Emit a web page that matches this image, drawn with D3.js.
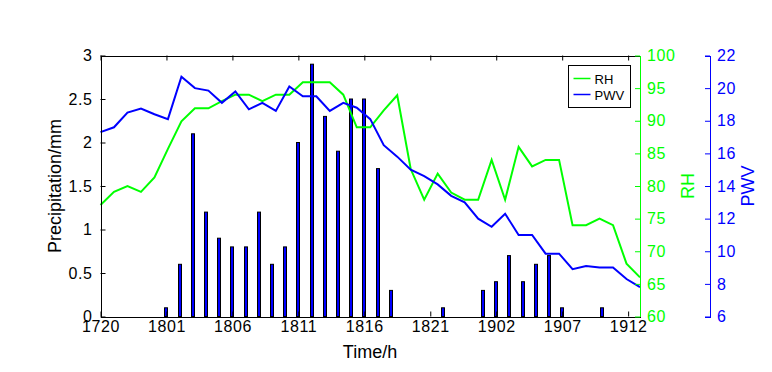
<!doctype html>
<html lang="en">
<head>
<meta charset="utf-8">
<title>Precipitation, RH and PWV</title>
<script src="https://cdn.jsdelivr.net/npm/d3@7"></script>
<style>
  body { margin: 0; background: #fff; }
  svg { font-family: "Liberation Sans", Arial, sans-serif; }
  .lbl { font-size: 16px; letter-spacing: 0.6px; }
  .title { font-size: 18px; }
</style>
</head>
<body>
<div id="chart"></div>
<script>
// hours from 17th 20:00 to 19th 12:00
var hours = d3.range(41);
var tickHours = [0, 5, 10, 15, 20, 25, 30, 35, 40];
var tickLabels = ["1720", "1801", "1806", "1811", "1816", "1821", "1902", "1907", "1912"];

// precipitation bars (hour index, mm)
var rainHour = [5, 6, 7, 8, 9, 10, 11, 12, 13, 14, 15, 16, 17, 18, 19, 20, 21, 22, 26, 29, 30, 31, 32, 33, 34, 35, 38];
var rainMm   = [0.1, 0.6, 2.1, 1.2, 0.9, 0.8, 0.8, 1.2, 0.6, 0.8, 2.0, 2.9, 2.3, 1.9, 2.5, 2.5, 1.7, 0.3, 0.1, 0.3, 0.4, 0.7, 0.4, 0.6, 0.7, 0.1, 0.1];

var rh = [77.1, 79.1, 80.0, 79.1, 81.3, 85.7, 89.9, 91.9, 91.9, 93.0,
          94.0, 94.0, 93.0, 94.0, 94.0, 95.9, 95.9, 95.9, 94.0, 89.0,
          89.0, 91.6, 93.9, 82.6, 77.9, 81.9, 79.0, 77.9, 77.9, 84.0,
          77.9, 86.0, 83.0, 84.0, 84.0, 74.0, 74.0, 75.0, 74.0, 68.1, 66.0];

var pwv = [17.3, 17.6, 18.5, 18.75, 18.4, 18.1, 20.7, 20.0, 19.85, 19.1,
           19.8, 18.7, 19.1, 18.6, 20.1, 19.5, 19.5, 18.6, 19.1, 18.8,
           18.1, 16.5, 15.8, 15.0, 14.6, 14.1, 13.4, 13.0, 12.0, 11.5,
           12.3, 11.0, 11.0, 9.85, 9.85, 8.9, 9.1, 9.0, 9.0, 8.3, 7.8];

var plotL = 100.5, plotR = 640, plotT = 55.5, plotB = 316.5;

var svg = d3.select("#chart").append("svg")
    .attr("width", 772)
    .attr("height", 372);

// bar axes and line axes do not share the same x limits
var xBar = d3.scaleLinear().domain([0, 40.9]).range([plotL, plotR]);
var xLine = d3.scaleLinear().domain([0, 40]).range([plotL, plotR]);
var yP = d3.scaleLinear().domain([0, 3]).range([plotB, plotT]);
var yRH = d3.scaleLinear().domain([60, 100]).range([plotB, plotT]);
var yPWV = d3.scaleLinear().domain([6, 22]).range([plotB, plotT]);

// bars
svg.append("g").selectAll("rect")
    .data(rainHour)
  .enter().append("rect")
    .attr("x", function(d) { return Math.round(xBar(d)) - 1.5; })
    .attr("y", function(d, i) { return yP(rainMm[i]); })
    .attr("width", 3)
    .attr("height", function(d, i) { return plotB - yP(rainMm[i]); })
    .attr("fill", "#0000ff")
    .attr("stroke", "#000")
    .attr("stroke-width", 1);

// lines
var rhLine = d3.line().x(function(d, i) { return xLine(i); }).y(function(d) { return yRH(d); });
var pwvLine = d3.line().x(function(d, i) { return xLine(i); }).y(function(d) { return yPWV(d); });

svg.append("path").datum(rh)
    .attr("d", rhLine).attr("fill", "none")
    .attr("stroke", "#00ff00").attr("stroke-width", 2);
svg.append("path").datum(pwv)
    .attr("d", pwvLine).attr("fill", "none")
    .attr("stroke", "#0000ff").attr("stroke-width", 2);

// frame: bottom and top x axes (ticks inward)
var xAxisB = d3.axisBottom(xBar).tickValues(tickHours)
    .tickFormat(function(d, i) { return tickLabels[i]; })
    .tickSizeInner(-5).tickSizeOuter(0).tickPadding(4);
var gx = svg.append("g").attr("transform", "translate(0," + plotB + ")").call(xAxisB);
gx.selectAll("text").attr("class", "lbl").attr("fill", "#000").attr("font-size", null);

var xAxisT = d3.axisTop(xBar).tickValues(tickHours).tickFormat("")
    .tickSizeInner(-5).tickSizeOuter(0);
svg.append("g").attr("transform", "translate(0," + plotT + ")").call(xAxisT);

// left precipitation axis
var yAxisL = d3.axisLeft(yP).tickValues([0, 0.5, 1, 1.5, 2, 2.5, 3])
    .tickFormat(d3.format("")).tickSizeInner(-5).tickSizeOuter(0).tickPadding(8);
var gl = svg.append("g").attr("transform", "translate(" + plotL + ",0)").call(yAxisL);
gl.selectAll("text").attr("class", "lbl").attr("fill", "#000").attr("font-size", null);

// RH axis (green)
var yAxisRH = d3.axisRight(yRH).tickValues(d3.range(60, 101, 5))
    .tickSizeInner(-5).tickSizeOuter(0).tickPadding(7);
var gr = svg.append("g").attr("transform", "translate(" + plotR + ",0)").call(yAxisRH);
gr.select(".domain").attr("stroke", "#00ff00");
gr.selectAll("line").attr("stroke", "#00ff00");
gr.selectAll("text").attr("class", "lbl").attr("fill", "#00ff00").attr("font-size", null);

// PWV axis (blue)
var yAxisPWV = d3.axisRight(yPWV).tickValues(d3.range(6, 23, 2))
    .tickSizeInner(-5).tickSizeOuter(-5).tickPadding(7);
var gp = svg.append("g").attr("transform", "translate(710,0)").call(yAxisPWV);
gp.select(".domain").attr("stroke", "#0000ff");
gp.selectAll("line").attr("stroke", "#0000ff");
gp.selectAll("text").attr("class", "lbl").attr("fill", "#0000ff").attr("font-size", null);

svg.selectAll(".domain").attr("shape-rendering", "crispEdges");

// axis titles
svg.append("text").attr("class", "title")
    .attr("x", 370).attr("y", 358).attr("text-anchor", "middle")
    .text("Time/h");
svg.append("text").attr("class", "title")
    .attr("transform", "translate(61,186)rotate(-90)").attr("text-anchor", "middle")
    .text("Precipitation/mm");
svg.append("text").attr("class", "title").attr("fill", "#00ff00")
    .attr("transform", "translate(694,186)rotate(-90)").attr("text-anchor", "middle")
    .text("RH");
svg.append("text").attr("class", "title").attr("fill", "#0000ff")
    .attr("transform", "translate(754,186)rotate(-90)").attr("text-anchor", "middle")
    .text("PWV");

// legend
var lg = svg.append("g").attr("transform", "translate(568.5,65.5)");
lg.append("rect").attr("width", 62).attr("height", 42)
    .attr("fill", "#fff").attr("stroke", "#000");
var legendNames = ["RH", "PWV"];
var legendColors = ["#00ff00", "#0000ff"];
legendNames.forEach(function(n, i) {
  lg.append("line").attr("x1", 5).attr("x2", 22).attr("y1", 13 + i * 16).attr("y2", 13 + i * 16)
      .attr("stroke", legendColors[i]).attr("stroke-width", 1.5);
  lg.append("text").attr("x", 26).attr("y", 18 + i * 16)
      .attr("font-size", "13px").text(n);
});
</script>
</body>
</html>
